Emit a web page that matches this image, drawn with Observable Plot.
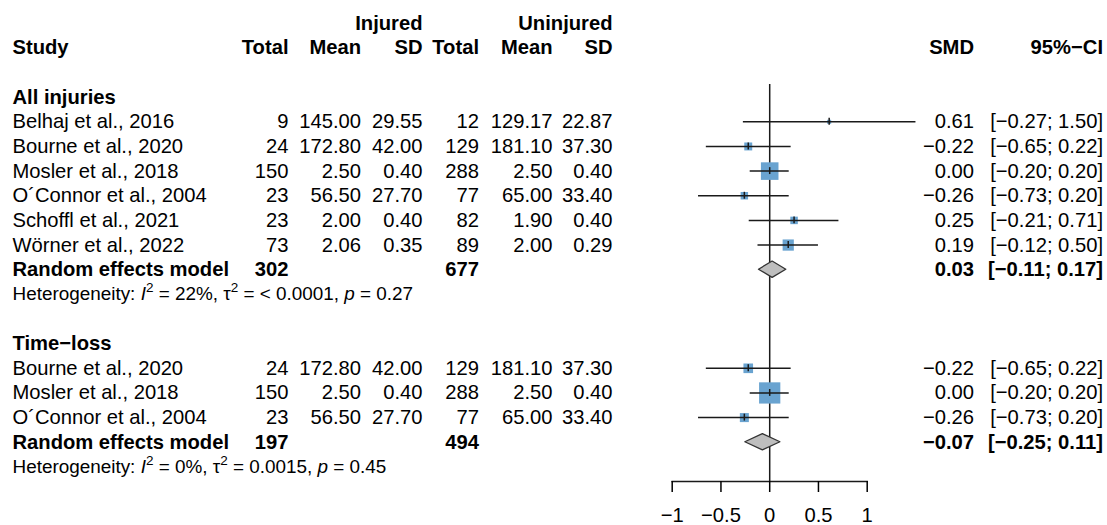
<!DOCTYPE html>
<html><head><meta charset="utf-8">
<script src="https://cdn.jsdelivr.net/npm/d3@7"></script>
<script src="https://cdn.jsdelivr.net/npm/@observablehq/plot@0.6"></script>
<style>
body{margin:0;background:#fff;}
#chart svg{font-family:"Liberation Sans",Arial,Helvetica,sans-serif;display:block;}
</style>
</head><body><div id="chart"></div>
<script>
// ---------- data ----------
const studies = ["Belhaj et al., 2016","Bourne et al., 2020","Mosler et al., 2018","O´Connor et al., 2004","Schoffl et al., 2021","Wörner et al., 2022"];
const injuredTotal = [9,24,150,23,23,73];
const injuredMean = [145.00,172.80,2.50,56.50,2.00,2.06];
const injuredSD = [29.55,42.00,0.40,27.70,0.40,0.35];
const uninjuredTotal = [12,129,288,77,82,89];
const uninjuredMean = [129.17,181.10,2.50,65.00,1.90,2.00];
const uninjuredSD = [22.87,37.30,0.40,33.40,0.40,0.29];
const smd = [0.61,-0.22,0.00,-0.26,0.25,0.19];
const ciLower = [-0.27,-0.65,-0.20,-0.73,-0.21,-0.12];
const ciUpper = [1.50,0.22,0.20,0.20,0.71,0.50];

const subgroups = ["All injuries","Time−loss"];
const subgroupStudies = [[0,1,2,3,4,5],[1,2,3]];
const subgroupWeights = [[2.6,10.1,49.4,8.9,9.0,20.1],[14.8,72.2,13.0]];
const pooledInjuredTotal = [302,197];
const pooledUninjuredTotal = [677,494];
const pooledSMD = [0.03,-0.07];
const pooledLower = [-0.11,-0.25];
const pooledUpper = [0.17,0.11];
const hetI2 = ["22%","0%"];
const hetTau2 = ["< 0.0001","0.0015"];
const hetP = ["0.27","0.45"];

const groupHeaders = ["Injured","Uninjured"];
const columnHeaders = ["Study","Total","Mean","SD","Total","Mean","SD","SMD","95%−CI"];
const xTicks = [-1,-0.5,0,0.5,1];

// ---------- layout ----------
const W = 1107, H = 525;
const ML = 671.7, MR = W - 866.7, MT = 84, MB = 44;
const FS = 20.2, FS_HET = 18.9;
const columns = [
  {key:"study", px:12, anchor:"start"},
  {key:"injTotal", px:288, anchor:"end"},
  {key:"injMean", px:360.5, anchor:"end"},
  {key:"injSD", px:422, anchor:"end"},
  {key:"unTotal", px:478.5, anchor:"end"},
  {key:"unMean", px:552, anchor:"end"},
  {key:"unSD", px:612, anchor:"end"},
  {key:"smd", px:973.5, anchor:"end"},
  {key:"ci", px:1102.5, anchor:"end"}
];
const fmt2 = v => (v < 0 ? "−" : "") + Math.abs(v).toFixed(2);
const fmtCI = (lo, hi) => "[" + fmt2(lo) + "; " + fmt2(hi) + "]";

// ---------- rows ----------
const cells = [], studyRows = [], diamondPts = [], hetRows = [];
cells.push({row:0, col:"injSD", text:groupHeaders[0], bold:true});
cells.push({row:0, col:"unSD", text:groupHeaders[1], bold:true});
columns.forEach((c,i) => cells.push({row:1, col:c.key, text:columnHeaders[i], bold:true}));
let r = 3;
subgroups.forEach((g, gi) => {
  cells.push({row:r, col:"study", text:g, bold:true}); r++;
  subgroupStudies[gi].forEach((si, j) => {
    const vals = {study:studies[si], injTotal:String(injuredTotal[si]), injMean:fmt2(injuredMean[si]), injSD:fmt2(injuredSD[si]),
      unTotal:String(uninjuredTotal[si]), unMean:fmt2(uninjuredMean[si]), unSD:fmt2(uninjuredSD[si]),
      smd:fmt2(smd[si]), ci:fmtCI(ciLower[si], ciUpper[si])};
    for (const k in vals) cells.push({row:r, col:k, text:vals[k], bold:false});
    studyRows.push({row:r, est:smd[si], lo:ciLower[si], hi:ciUpper[si], w:subgroupWeights[gi][j]});
    r++;
  });
  const pv = {study:"Random effects model", injTotal:String(pooledInjuredTotal[gi]), unTotal:String(pooledUninjuredTotal[gi]),
    smd:fmt2(pooledSMD[gi]), ci:fmtCI(pooledLower[gi], pooledUpper[gi])};
  for (const k in pv) cells.push({row:r, col:k, text:pv[k], bold:true});
  const hh = 0.33;
  diamondPts.push({g:gi, x:pooledLower[gi], y1:r, y2:r});
  diamondPts.push({g:gi, x:pooledSMD[gi], y1:r-hh, y2:r+hh});
  diamondPts.push({g:gi, x:pooledUpper[gi], y1:r, y2:r});
  r++;
  hetRows.push({row:r, gi, text:"Heterogeneity: I2 = " + hetI2[gi] + ", τ2 = " + hetTau2[gi] + ", p = " + hetP[gi]});
  r++;
  r++;
});
const lastRow = 18;

// ---------- marks ----------
const textMarks = [];
for (const c of columns) {
  for (const bold of [false, true]) {
    const data = cells.filter(d => d.col === c.key && d.bold === bold);
    if (!data.length) continue;
    textMarks.push(Plot.text(data, {y:"row", text:"text", frameAnchor:"left", dx:c.px - ML, textAnchor:c.anchor,
      fontSize:FS, fontWeight: bold ? "bold" : "normal", fill:"black"}));
  }
}

const chart = Plot.plot({
  width: W, height: H,
  marginLeft: ML, marginRight: MR, marginTop: MT, marginBottom: MB,
  style: {fontFamily: '"Liberation Sans", Arial, Helvetica, sans-serif', background: "white", color: "black"},
  x: {domain: [-1, 1], label: null},
  y: {domain: [0, lastRow], range: [22.7, 466.4], axis: null},
  r: {type: "sqrt", domain: [0, 100], range: [0, 14.11]},
  marks: [
    Plot.ruleX([0], {stroke: "#1a1a1a", strokeWidth: 1.5}),
    Plot.frame({anchor: "bottom", stroke: "#1a1a1a", strokeWidth: 1.5}),
    Plot.axisX({ticks: xTicks, tickSize: 11, tickPadding: 15, fontSize: FS, label: null, strokeWidth: 1.5,
      tickFormat: d => d < 0 ? "−" + Math.abs(d) : String(d)}),
    Plot.dot(studyRows, {x: "est", y: "row", r: "w", symbol: "square", fill: "#69a3d0", stroke: null}),
    Plot.ruleY(studyRows, {y: "row", x1: "lo", x2: "hi", stroke: "#1a1a1a", strokeWidth: 1.5}),
    Plot.ruleX(studyRows, {x: "est", y1: d => d.row - 0.14, y2: d => d.row + 0.14, stroke: "#1a1a1a", strokeWidth: 1.5}),
    Plot.areaY(diamondPts, {x: "x", y1: "y1", y2: "y2", z: "g", fill: "#bebebe", stroke: "#333", strokeWidth: 1.3}),
    ...textMarks,
    Plot.text(hetRows, {y: "row", text: "text", frameAnchor: "left", dx: 12 - ML, textAnchor: "start",
      fontSize: FS_HET, fill: "black", className: "het"})
  ]
});
document.getElementById("chart").appendChild(chart);

// rich formatting of heterogeneity statistics (italic symbols, superscripts)
d3.select(chart).selectAll("g.het text").each(function(_, i) {
  const d = hetRows[i];
  const t = d3.select(this);
  t.text(null);
  const parts = [
    ["Heterogeneity: "], ["I", "it"], ["2", "sup"], [" = " + hetI2[d.gi] + ", τ"], ["2", "sup"],
    [" = " + hetTau2[d.gi] + ", "], ["p", "it"], [" = " + hetP[d.gi]]
  ];
  let raised = false;
  for (const [s, kind] of parts) {
    const ts = t.append("tspan").text(s);
    if (kind === "it") ts.attr("font-style", "italic");
    if (kind === "sup") { ts.attr("font-size", 13.5).attr("dy", -8); raised = true; }
    else if (raised) { ts.attr("dy", 8); raised = false; }
  }
});
</script>
</body></html>
